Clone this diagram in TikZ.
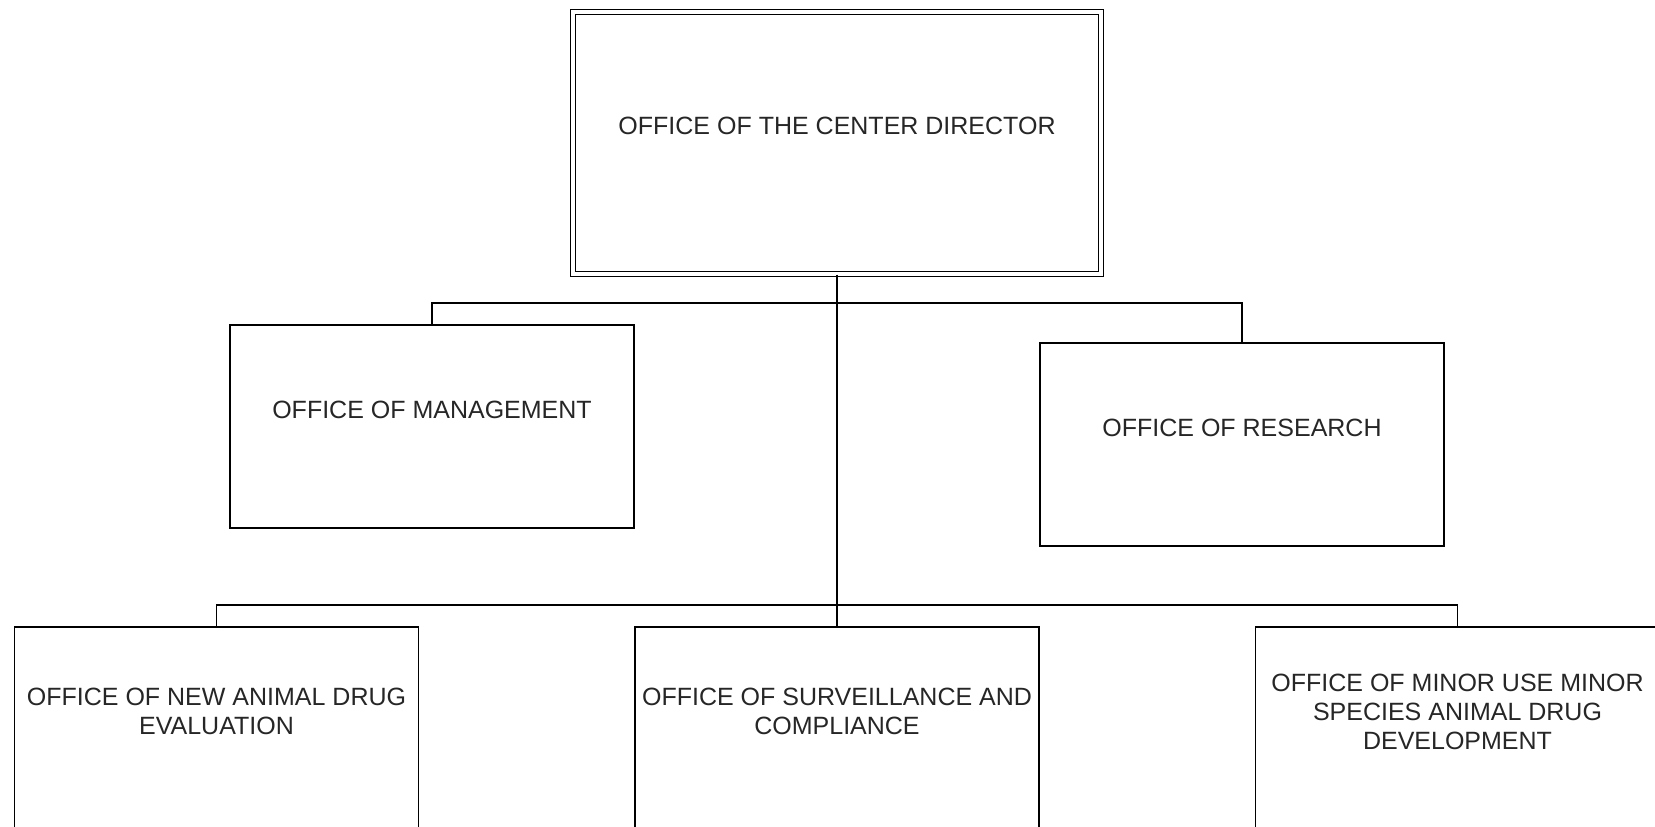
\documentclass[tikz,border=0pt]{standalone}
\usepackage{fontspec}
\setmainfont{Liberation Sans}
\begin{document}
\begin{tikzpicture}[x=1pt,y=-1pt,line join=miter,font=\fontsize{25}{29}\selectfont,
  office/.style={draw,line width=1.4pt,minimum width=404pt,minimum height=203pt,inner sep=0pt},
  officetext/.style={align=center,yshift=17pt,text=black!85},
  link/.style={line width=1.4pt}]
\def \w{1655};
\def \h{827};
\useasboundingbox (0,0) rectangle (\w,\h);
\clip (0,0) rectangle (\w,\h);
% director
\node[office,double,double distance=3.1pt,minimum width=528pt,minimum height=262pt,
  label={[name=dirtxt,officetext]center:OFFICE OF THE CENTER DIRECTOR}] (dir) at (837,143) {};
% staff offices
\node[office,label={[name=mgmttxt,officetext]center:OFFICE OF MANAGEMENT}] (mgmt) at (432,426.5) {};
\node[office,label={[name=restxt,officetext]center:OFFICE OF RESEARCH}] (res) at (1242,444.5) {};
% line offices
\node[office,label={[name=nadetxt,officetext]center:OFFICE OF NEW ANIMAL DRUG\\EVALUATION}] (nade) at (216.5,728.5) {};
\node[office,label={[name=osctxt,officetext]center:OFFICE OF SURVEILLANCE AND\\COMPLIANCE}] (osc) at (837,728.5) {};
\node[office,label={[name=mumstxt,officetext]center:OFFICE OF MINOR USE MINOR\\SPECIES ANIMAL DRUG\\DEVELOPMENT}] (mums) at (1457.5,728.5) {};
\coordinate (j1) at (837,303);
\coordinate (j2) at (837,605);
\draw[line width=2.4pt] (dir.south) -- (j2);
\draw[link] (mgmt.north) |- (j1) -| (res.north);
\draw[link] (nade.north) |- (j2) -| (mums.north);
\draw[link] (j2) -- (osc.north);
\end{tikzpicture}
\end{document}
